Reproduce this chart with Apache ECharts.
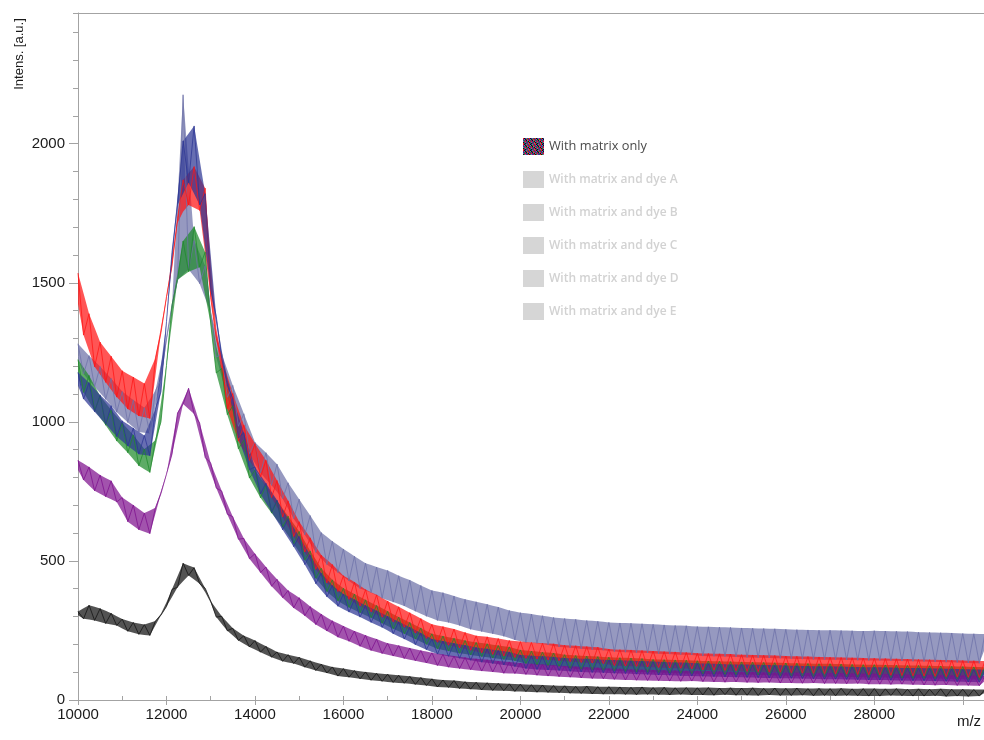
<!DOCTYPE html>
<html>
<head>
<meta charset="utf-8">
<title>Intensity vs m/z</title>
<script src="https://cdn.jsdelivr.net/npm/echarts@6/dist/echarts.min.js"></script>
<style>
  html, body { margin: 0; padding: 0; background: #fff; }
  #chart { width: 984px; height: 740px; }
</style>
</head>
<body>
<div id="chart"></div>
<script>
// m/z sampling grid: 10000 .. 30500, one sample every 125
const MZ_START = 10000;
const MZ_STEP = 125;

const seriesNames = [
  'With matrix only',
  'With matrix and dye A',
  'With matrix and dye B',
  'With matrix and dye C',
  'With matrix and dye D',
  'With matrix and dye E'
];

// intensities, one value per grid point (165 each)
const matrixOnly = [
  318, 292, 341, 286, 329, 275, 312, 268,
  291, 247, 279, 236, 271, 232, 284, 305,
  336, 398, 405, 492, 448, 476, 418, 402,
  356, 298, 301, 249, 258, 214, 231, 191,
  214, 172, 193, 154, 173, 139, 163, 131,
  154, 118, 141, 106, 129, 97, 119, 86,
  113, 82, 106, 76, 101, 71, 96, 67,
  93, 63, 89, 60, 85, 56, 81, 52,
  76, 47, 72, 45, 70, 41, 66, 39,
  64, 36, 62, 34, 60, 33, 58, 31,
  57, 30, 55, 28, 54, 27, 52, 26,
  51, 24, 49, 23, 50, 22, 48, 21,
  48, 21, 47, 20, 46, 19, 47, 20,
  45, 19, 46, 18, 44, 20, 45, 18,
  44, 18, 45, 17, 43, 19, 44, 17,
  43, 17, 44, 16, 42, 18, 43, 16,
  42, 16, 43, 17, 41, 15, 42, 16,
  41, 15, 42, 16, 40, 15, 41, 14,
  41, 14, 40, 16, 41, 15, 39, 14,
  40, 14, 39, 15, 40, 13, 39, 14,
  39, 13, 38, 14, 38
];

const dyeA = [
  862, 791, 838, 752, 809, 731, 788, 712,
  728, 641, 701, 612, 672, 598, 691, 742,
  812, 884, 1032, 1064, 1121, 1028, 996, 872,
  852, 762, 751, 668, 659, 578, 581, 508,
  526, 458, 478, 409, 434, 368, 394, 331,
  368, 303, 336, 271, 309, 248, 285, 226,
  266, 211, 248, 193, 233, 178, 219, 167,
  204, 158, 196, 149, 187, 141, 178, 133,
  170, 124, 164, 118, 158, 113, 153, 109,
  148, 104, 145, 101, 140, 96, 137, 95,
  133, 92, 130, 89, 128, 86, 125, 84,
  122, 82, 120, 79, 118, 77, 116, 76,
  113, 74, 112, 72, 110, 71, 109, 70,
  108, 69, 107, 68, 106, 67, 105, 68,
  105, 66, 104, 65, 103, 64, 102, 65,
  102, 63, 101, 62, 100, 63, 99, 61,
  99, 61, 98, 60, 97, 61, 96, 59,
  97, 59, 96, 58, 95, 59, 94, 57,
  94, 57, 93, 56, 92, 57, 91, 55,
  91, 54, 90, 53, 89, 54, 88, 52,
  88, 52, 87, 51, 86
];

const dyeB = [
  1178, 1082, 1141, 1036, 1097, 992, 1058, 947,
  1004, 913, 978, 884, 951, 878, 1046, 1108,
  1360, 1610, 1780, 2010, 1860, 2064, 1780, 1820,
  1476, 1380, 1228, 1132, 1083, 942, 961, 828,
  838, 741, 779, 676, 718, 612, 652, 551,
  588, 487, 521, 418, 456, 371, 412, 337,
  381, 316, 361, 298, 340, 279, 321, 261,
  301, 238, 281, 219, 262, 199, 241, 181,
  219, 165, 212, 157, 204, 150, 197, 143,
  189, 136, 184, 131, 178, 126, 173, 120,
  162, 113, 159, 110, 157, 108, 155, 106,
  151, 103, 149, 101, 148, 99, 146, 98,
  144, 96, 143, 95, 141, 93, 140, 92,
  138, 90, 137, 89, 135, 87, 134, 86,
  132, 85, 131, 84, 129, 83, 128, 82,
  128, 81, 127, 80, 126, 79, 125, 78,
  124, 78, 123, 77, 122, 76, 121, 75,
  121, 75, 120, 74, 119, 73, 118, 72,
  118, 72, 117, 71, 116, 70, 115, 69,
  115, 69, 114, 68, 113, 67, 112, 66,
  111, 65, 110, 64, 109
];

const dyeC = [
  1224, 1106, 1167, 1041, 1093, 988, 1043, 931,
  996, 889, 953, 842, 902, 818, 934, 1000,
  1203, 1420, 1511, 1650, 1540, 1702, 1556, 1610,
  1352, 1176, 1192, 1026, 1058, 903, 934, 798,
  826, 727, 771, 672, 716, 622, 661, 562,
  606, 503, 536, 438, 474, 390, 432, 356,
  402, 333, 381, 314, 360, 296, 340, 276,
  319, 256, 298, 238, 279, 219, 259, 200,
  238, 184, 230, 176, 222, 168, 214, 162,
  207, 156, 202, 151, 196, 146, 191, 141,
  180, 131, 176, 127, 172, 124, 169, 121,
  163, 114, 160, 111, 158, 109, 156, 107,
  154, 105, 152, 103, 151, 101, 149, 100,
  146, 99, 145, 97, 144, 96, 143, 95,
  141, 94, 140, 93, 139, 92, 138, 91,
  137, 91, 136, 90, 135, 89, 134, 88,
  133, 87, 132, 86, 131, 85, 130, 84,
  130, 84, 129, 83, 128, 82, 127, 81,
  127, 81, 126, 80, 125, 79, 124, 78,
  124, 78, 123, 77, 122, 76, 121, 75,
  120, 74, 119, 73, 118
];

const dyeD = [
  1535, 1312, 1389, 1198, 1287, 1142, 1236, 1089,
  1184, 1046, 1161, 1021, 1138, 1012, 1230, 1320,
  1450, 1560, 1731, 1870, 1780, 1918, 1760, 1840,
  1446, 1300, 1228, 1047, 1102, 931, 989, 861,
  922, 801, 862, 728, 789, 658, 716, 588,
  641, 532, 583, 470, 521, 421, 487, 390,
  447, 362, 424, 338, 397, 317, 378, 298,
  356, 281, 335, 262, 314, 241, 293, 222,
  272, 208, 264, 197, 255, 188, 243, 179,
  231, 170, 227, 164, 221, 158, 214, 153,
  210, 150, 207, 147, 204, 144, 202, 141,
  197, 138, 195, 135, 192, 133, 190, 131,
  183, 124, 181, 122, 180, 121, 178, 119,
  176, 117, 174, 115, 173, 114, 171, 112,
  168, 108, 167, 107, 166, 106, 165, 105,
  163, 103, 162, 102, 161, 101, 160, 100,
  158, 98, 157, 97, 156, 96, 155, 95,
  154, 94, 153, 93, 152, 92, 151, 91,
  150, 90, 149, 89, 148, 88, 147, 87,
  146, 86, 145, 85, 144, 84, 143, 83,
  142, 82, 141, 81, 140
];

const dyeE = [
  1281, 1172, 1238, 1126, 1199, 1081, 1156, 1035,
  1109, 998, 1079, 964, 1051, 958, 1112, 1150,
  1302, 1420, 1509, 2176, 1548, 1652, 1497, 1561,
  1392, 1233, 1244, 1088, 1131, 984, 1029, 886,
  927, 816, 889, 772, 848, 724, 781, 652,
  722, 594, 663, 531, 602, 487, 571, 458,
  543, 428, 517, 401, 492, 386, 478, 366,
  466, 352, 447, 338, 431, 319, 412, 301,
  394, 286, 386, 279, 374, 268, 362, 254,
  353, 246, 344, 238, 334, 229, 322, 216,
  314, 207, 309, 204, 303, 198, 297, 191,
  293, 188, 290, 184, 286, 181, 283, 179,
  279, 174, 277, 172, 276, 170, 274, 169,
  272, 166, 270, 165, 268, 163, 267, 162,
  264, 158, 263, 157, 262, 156, 261, 155,
  259, 153, 258, 152, 257, 151, 256, 150,
  254, 148, 253, 147, 252, 146, 251, 145,
  251, 145, 250, 144, 249, 143, 248, 142,
  249, 142, 248, 141, 247, 140, 246, 139,
  244, 138, 243, 137, 242, 136, 241, 135,
  239, 133, 238, 132, 237
];

const xTickLabels = ['10000', '12000', '14000', '16000', '18000', '20000', '22000', '24000', '26000', '28000'];
const yTickLabels = ['0', '500', '1000', '1500', '2000'];

const seriesValues = [matrixOnly, dyeA, dyeB, dyeC, dyeD, dyeE];
const lineColors = ['#111111', '#7e108e', '#2c3694', '#1f8a2b', '#ff1414', '#6d71a8'];
// draw order, back to front
const drawOrder = [5, 3, 4, 2, 1, 0];

const mz = matrixOnly.map((_, i) => MZ_START + i * MZ_STEP);

// noise band around each trace: between each reading and the mean of its neighbours
function bandOf(vals) {
  const lo = [], hi = [];
  vals.forEach((v, i) => {
    const a = vals[Math.max(0, i - 1)];
    const b = vals[Math.min(vals.length - 1, i + 1)];
    const n = (a + b) / 2;
    lo.push(Math.min(v, n));
    hi.push(Math.max(v, n));
  });
  return { lo, hi };
}

// small speckled swatch for the active legend entry
const swatch = document.createElement('canvas');
swatch.width = 6;
swatch.height = 6;
const sctx = swatch.getContext('2d');
const swatchCells = '402513150342231054514230035124420315';
for (let i = 0; i < 36; i++) {
  sctx.fillStyle = lineColors[+swatchCells[i]];
  sctx.fillRect(i % 6, Math.floor(i / 6), 1, 1);
}

const chart = echarts.init(document.getElementById('chart'));

const axisGray = '#a3a3a3';
const labelFont = { color: '#1a1a1a', fontFamily: 'Liberation Sans, Arial, sans-serif', fontSize: 15 };

const series = [];
drawOrder.forEach(k => {
  const band = bandOf(seriesValues[k]);
  const color = lineColors[k];
  // shaded band, drawn as one polygon through the axis scales
  series.push({
    name: seriesNames[k] + ' band',
    type: 'custom',
    silent: true,
    clip: true,
    data: [[mz[0], band.lo[0], band.hi[0]]],
    encode: { x: 0, y: [1, 2] },
    renderItem: (params, api) => {
      const top = mz.map((m, i) => api.coord([m, band.hi[i]]));
      const bottom = mz.map((m, i) => api.coord([m, band.lo[i]])).reverse();
      return {
        type: 'polygon',
        shape: { points: top.concat(bottom) },
        style: { fill: color, opacity: 0.72 }
      };
    }
  });
  series.push({
    name: seriesNames[k],
    type: 'line',
    symbol: 'none',
    sampling: null,
    itemStyle: { color },
    lineStyle: { color, width: 1, opacity: 0.75 },
    emphasis: { disabled: true },
    data: mz.map((m, i) => [m, seriesValues[k][i]])
  });
});

const option = {
  animation: false,
  backgroundColor: '#ffffff',
  grid: { left: 78, top: 13, right: 0, bottom: 40, containLabel: false },
  legend: {
    orient: 'vertical',
    left: 523,
    top: 138,
    padding: 0,
    itemWidth: 21,
    itemHeight: 17,
    itemGap: 16,
    icon: 'rect',
    selectedMode: false,
    textStyle: { fontFamily: 'Open Sans, sans-serif', fontSize: 12, color: '#d2d2d2' },
    data: seriesNames.map((name, i) => i === 0
      ? { name, itemStyle: { color: { image: swatch, repeat: 'repeat' } }, textStyle: { color: '#4a4a4a', fontSize: 12.8 } }
      : { name, itemStyle: { color: '#d6d6d6' }, textStyle: { color: '#d2d2d2', fontWeight: 600 } })
  },
  xAxis: [
    {
      type: 'value',
      min: 10000,
      max: 30480,
      interval: 2000,
      axisLine: { show: true, lineStyle: { color: axisGray, width: 1 } },
      axisTick: { show: true, length: 5, lineStyle: { color: axisGray } },
      axisLabel: Object.assign({
        margin: 7,
        showMaxLabel: false,
        formatter: v => xTickLabels.includes(String(v)) ? String(v) : ''
      }, labelFont),
      splitLine: { show: false }
    },
    {
      type: 'value',
      min: 10000,
      max: 30480,
      interval: 1000,
      axisLine: { show: false },
      axisTick: { show: true, length: 4, lineStyle: { color: axisGray } },
      axisLabel: { show: false },
      splitLine: { show: false }
    },
    {
      type: 'value',
      position: 'top',
      min: 10000,
      max: 30480,
      axisLine: { show: true, lineStyle: { color: axisGray, width: 1 } },
      axisTick: { show: false },
      axisLabel: { show: false },
      splitLine: { show: false }
    }
  ],
  yAxis: [
    {
      type: 'value',
      min: 0,
      max: 2470,
      interval: 500,
      axisLine: { show: true, lineStyle: { color: axisGray, width: 1 } },
      axisTick: { show: true, length: 9, lineStyle: { color: axisGray } },
      axisLabel: Object.assign({
        margin: 13,
        showMaxLabel: false,
        formatter: v => yTickLabels.includes(String(v)) ? String(v) : ''
      }, labelFont),
      splitLine: { show: false }
    },
    {
      type: 'value',
      min: 0,
      max: 2470,
      interval: 100,
      position: 'left',
      axisLine: { show: false },
      axisTick: { show: true, length: 5, lineStyle: { color: axisGray } },
      axisLabel: { show: false },
      splitLine: { show: false }
    }
  ],
  graphic: [
    {
      type: 'text',
      x: 19,
      y: 54,
      rotation: Math.PI / 2,
      style: {
        text: 'Intens. [a.u.]',
        fill: '#1a1a1a',
        font: '13px "Liberation Sans", Arial, sans-serif',
        align: 'center',
        verticalAlign: 'middle'
      }
    },
    {
      type: 'text',
      x: 969,
      y: 722,
      style: {
        text: 'm/z',
        fill: '#1a1a1a',
        font: '15px "Liberation Sans", Arial, sans-serif',
        align: 'center',
        verticalAlign: 'middle'
      }
    }
  ],
  series
};

chart.setOption(option);
</script>
</body>
</html>
